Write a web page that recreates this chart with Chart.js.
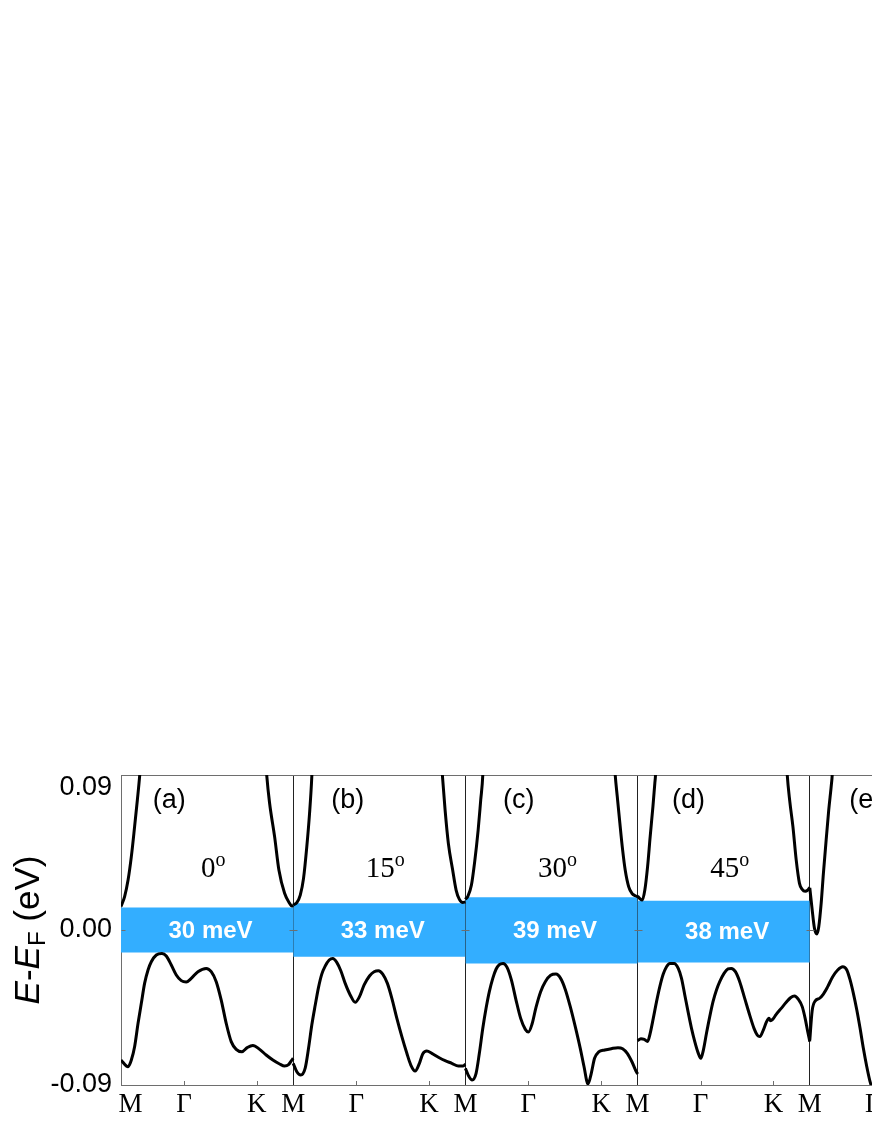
<!DOCTYPE html>
<html>
<head>
<meta charset="utf-8">
<script src="https://cdn.jsdelivr.net/npm/chart.js@4.4.1/dist/chart.umd.min.js"></script>
<style>
  html, body { margin: 0; padding: 0; background: #fff; width: 872px; height: 1128px; overflow: hidden; }
  #wrap { position: absolute; left: 0; top: 760px; width: 872px; height: 368px; overflow: hidden; }
  canvas { display: block; }
</style>
</head>
<body>
<div id="wrap"><canvas id="c" width="992" height="368"></canvas></div>
<script>
// ---------------- data (x: fraction along M-Γ-K-M of each panel, y: E-EF in eV) ----------------
const panelTags   = ['(a)', '(b)', '(c)', '(d)', '(e)'];
const panelAngles = ['0', '15', '30', '45'];
const gapLabels   = ['30 meV', '33 meV', '39 meV', '38 meV'];
const gapTop      = [0.0130, 0.0155, 0.0190, 0.0170];
const gapBottom   = [-0.0130, -0.0155, -0.0194, -0.0188];
const kPathLabels = ['M', 'Γ', 'K'];
const kPathPos    = [0, 0.366, 0.789];
const yTickValues = [-0.09, 0, 0.09];

// panel (a) 0°
const cbLeftA  = [[0,0.0136],[0.021,0.0194],[0.041,0.029],[0.060,0.0426],[0.079,0.060],[0.095,0.0755],[0.108,0.089],[0.122,0.108]];
const cbRightA = [[0.835,0.108],[0.847,0.089],[0.863,0.0736],[0.892,0.0542],[0.917,0.0348],[0.950,0.0213],[0.979,0.0155],[0.992,0.0139],[1.0,0.0143]];
const vbA = [[0,-0.0755],[0.041,-0.0794],[0.060,-0.0755],[0.079,-0.0678],[0.099,-0.0542],[0.118,-0.0426],[0.137,-0.031],[0.157,-0.0232],[0.176,-0.0184],[0.205,-0.0145],[0.238,-0.0136],[0.263,-0.0151],[0.292,-0.0203],[0.321,-0.0261],[0.350,-0.0294],[0.379,-0.0302],[0.408,-0.0281],[0.447,-0.0242],[0.495,-0.0223],[0.524,-0.0242],[0.553,-0.030],[0.582,-0.0407],[0.611,-0.0542],[0.640,-0.0648],[0.669,-0.0693],[0.702,-0.0707],[0.733,-0.0683],[0.766,-0.0670],[0.805,-0.0693],[0.843,-0.0726],[0.882,-0.0755],[0.921,-0.0778],[0.950,-0.079],[0.973,-0.0782],[0.992,-0.0755],[1.0,-0.0745]];

// panel (b) 15°
const cbLeftB  = [[0,0.0145],[0.021,0.0159],[0.041,0.0203],[0.060,0.030],[0.079,0.0484],[0.095,0.0678],[0.108,0.089],[0.114,0.105]];
const cbRightB = [[0.857,0.105],[0.867,0.089],[0.882,0.0697],[0.901,0.0503],[0.926,0.0348],[0.946,0.0232],[0.965,0.0178],[0.985,0.0159],[1.0,0.0163]];
const vbB = [[0,-0.0774],[0.021,-0.0823],[0.044,-0.0842],[0.070,-0.080],[0.089,-0.0687],[0.108,-0.0552],[0.128,-0.0436],[0.147,-0.0333],[0.166,-0.0256],[0.186,-0.0209],[0.209,-0.0174],[0.230,-0.0165],[0.253,-0.0188],[0.277,-0.0238],[0.302,-0.031],[0.331,-0.0377],[0.360,-0.042],[0.385,-0.0387],[0.412,-0.0319],[0.443,-0.0267],[0.470,-0.0242],[0.495,-0.0236],[0.520,-0.0256],[0.547,-0.031],[0.573,-0.0397],[0.602,-0.0513],[0.631,-0.0619],[0.660,-0.0716],[0.683,-0.0784],[0.708,-0.0819],[0.733,-0.0774],[0.752,-0.072],[0.776,-0.0703],[0.805,-0.0716],[0.843,-0.0739],[0.882,-0.0759],[0.921,-0.0774],[0.959,-0.079],[0.985,-0.079],[1.0,-0.078]];

// panel (c) 30°
const cbLeftC  = [[0,0.0178],[0.015,0.0197],[0.035,0.0261],[0.054,0.0397],[0.074,0.058],[0.089,0.0755],[0.101,0.090],[0.106,0.105]];
const cbRightC = [[0.861,0.105],[0.870,0.090],[0.882,0.0774],[0.897,0.062],[0.913,0.0465],[0.928,0.0348],[0.948,0.0252],[0.967,0.0213],[0.986,0.0199],[1.0,0.0194]];
const vbC = [[0,-0.0803],[0.019,-0.0848],[0.039,-0.0871],[0.062,-0.0832],[0.081,-0.0716],[0.101,-0.0571],[0.120,-0.0455],[0.139,-0.0358],[0.159,-0.0281],[0.178,-0.0228],[0.197,-0.0201],[0.219,-0.0194],[0.242,-0.0217],[0.267,-0.029],[0.294,-0.0407],[0.321,-0.0513],[0.348,-0.0577],[0.366,-0.0592],[0.387,-0.0546],[0.410,-0.0449],[0.437,-0.0358],[0.464,-0.030],[0.495,-0.0263],[0.526,-0.0256],[0.553,-0.0281],[0.580,-0.0345],[0.609,-0.0445],[0.638,-0.0561],[0.667,-0.0687],[0.689,-0.0794],[0.712,-0.0894],[0.731,-0.0832],[0.750,-0.0745],[0.774,-0.0708],[0.809,-0.0697],[0.847,-0.0689],[0.886,-0.0683],[0.913,-0.0689],[0.940,-0.0716],[0.967,-0.0765],[0.986,-0.0809],[1.0,-0.0836]];

// panel (d) 45°
const cbLeftD  = [[0,0.0197],[0.0135,0.0182],[0.027,0.0174],[0.042,0.0232],[0.058,0.0368],[0.073,0.0542],[0.089,0.0716],[0.100,0.0852],[0.104,0.090],[0.109,0.105]];
const cbRightD = [[0.861,0.105],[0.869,0.090],[0.884,0.0745],[0.902,0.060],[0.921,0.0407],[0.940,0.0271],[0.956,0.0236],[0.973,0.0225],[0.988,0.0232],[1.0,0.0248]];
const vbD = [[0,-0.0643],[0.019,-0.0631],[0.039,-0.0635],[0.058,-0.0647],[0.073,-0.060],[0.091,-0.0513],[0.110,-0.0416],[0.129,-0.0329],[0.149,-0.0256],[0.168,-0.0213],[0.187,-0.0194],[0.212,-0.0194],[0.236,-0.0223],[0.255,-0.0281],[0.274,-0.0377],[0.293,-0.0474],[0.313,-0.0571],[0.332,-0.0648],[0.351,-0.0712],[0.367,-0.0745],[0.382,-0.0697],[0.400,-0.060],[0.419,-0.0503],[0.438,-0.0416],[0.458,-0.0348],[0.477,-0.030],[0.502,-0.0252],[0.525,-0.0226],[0.544,-0.0223],[0.568,-0.0242],[0.593,-0.030],[0.622,-0.0397],[0.651,-0.0494],[0.676,-0.0571],[0.695,-0.061],[0.710,-0.0619],[0.730,-0.0581],[0.749,-0.0532],[0.763,-0.0513],[0.772,-0.0527],[0.784,-0.0519],[0.805,-0.049],[0.834,-0.0455],[0.863,-0.042],[0.888,-0.0393],[0.911,-0.0383],[0.934,-0.0403],[0.956,-0.0445],[0.973,-0.0513],[0.988,-0.059],[1.0,-0.0648]];

// panel (e) (partly visible)
const cbE = [[0,0.0245],[0.0135,0.0120],[0.027,0.0010],[0.041,-0.0023],[0.052,0.0019],[0.066,0.0155],[0.079,0.0329],[0.095,0.0523],[0.110,0.0697],[0.126,0.0852],[0.130,0.090],[0.134,0.105]];
const vbE = [[0,-0.0640],[0.0135,-0.0470],[0.033,-0.0410],[0.056,-0.0397],[0.079,-0.0372],[0.104,-0.0329],[0.133,-0.0271],[0.162,-0.0232],[0.191,-0.0213],[0.215,-0.0232],[0.234,-0.029],[0.253,-0.0368],[0.273,-0.0465],[0.292,-0.0571],[0.311,-0.0687],[0.331,-0.0794],[0.350,-0.0881],[0.366,-0.093]];

const bandPanels = [
  [cbLeftA, cbRightA, vbA],
  [cbLeftB, cbRightB, vbB],
  [cbLeftC, cbRightC, vbC],
  [cbLeftD, cbRightD, vbD],
  [cbE, vbE]
];

// ---------------- styling / layout ----------------
const SANS  = "'Liberation Sans', Arial, Helvetica, sans-serif";
const SERIF = "'Liberation Serif', 'Times New Roman', serif";
const BLUE  = 'rgb(51,174,255)';
const AXIS_GRAY = '#6e6e6e';
const tagOffset = [0.28, 0.317, 0.31, 0.296, 0.325];

const datasets = [];
gapTop.forEach((top, p) => {
  datasets.push({
    data: [{x: p, y: top}, {x: p + 1, y: top}],
    borderWidth: 0, borderColor: 'rgba(0,0,0,0)', pointRadius: 0,
    backgroundColor: BLUE, fill: {value: gapBottom[p]}, order: 2
  });
});
bandPanels.forEach((curves, p) => {
  curves.forEach(pts => {
    datasets.push({
      data: pts.map(([f, e]) => ({x: p + f, y: e})),
      borderColor: '#000', borderWidth: 3, pointRadius: 0, fill: false,
      cubicInterpolationMode: 'monotone', clip: 0, order: 1
    });
  });
});

const xTickList = [];
for (let p = 0; p < 5; p++) kPathPos.forEach(k => xTickList.push(+(p + k).toFixed(3)));

function kLabel(v) {
  const f = v - Math.floor(v + 1e-6);
  let best = 0;
  kPathPos.forEach((k, i) => { if (Math.abs(k - f) < Math.abs(kPathPos[best] - f)) best = i; });
  // the very first label sits just inside the frame, as in the original
  return v === 0 ? '\u2002\u2009' + kPathLabels[best] : kPathLabels[best];
}

function noPad(s) { s.paddingTop = 0; s.paddingBottom = 0; s.paddingLeft = 0; s.paddingRight = 0; }

const annot = {
  id: 'annot',
  afterDatasetsDraw(chart) {
    const {ctx, scales: {x, y}} = chart;
    ctx.save();
    ctx.fillStyle = '#000';
    ctx.textAlign = 'center';
    ctx.textBaseline = 'middle';
    ctx.font = '27px ' + SANS;
    panelTags.forEach((t, i) => ctx.fillText(t, x.getPixelForValue(i + tagOffset[i]), y.getPixelForValue(0.0752)));

    // angle labels with superscript "o"
    panelAngles.forEach((a, i) => {
      ctx.font = '29px ' + SERIF;
      const w1 = ctx.measureText(a).width;
      ctx.font = '20px ' + SERIF;
      const w2 = ctx.measureText('o').width;
      const cx = x.getPixelForValue(i + 0.535);
      const base = y.getPixelForValue(0.0366) + 10;
      const x0 = cx - (w1 + w2) / 2;
      ctx.textAlign = 'left';
      ctx.textBaseline = 'alphabetic';
      ctx.font = '29px ' + SERIF;
      ctx.fillText(a, x0, base);
      ctx.font = '20px ' + SERIF;
      ctx.fillText('o', x0 + w1, base - 11);
    });

    // gap labels
    ctx.textAlign = 'center';
    ctx.textBaseline = 'middle';
    ctx.fillStyle = '#fff';
    ctx.font = 'bold 24px ' + SANS;
    gapLabels.forEach((t, i) => ctx.fillText(t, x.getPixelForValue(i + 0.52), y.getPixelForValue((gapTop[i] + gapBottom[i]) / 2) + 1));
    ctx.restore();
  },
  afterDraw(chart) {
    const {ctx, scales: {x, y}, chartArea: ca} = chart;
    ctx.save();
    // inner tick marks
    ctx.strokeStyle = AXIS_GRAY;
    ctx.lineWidth = 1;
    xTickList.forEach(v => {
      const px = Math.round(x.getPixelForValue(v)) + 0.5;
      const f = v - Math.floor(v + 1e-6);
      if (f > 0.01) {
        ctx.beginPath(); ctx.moveTo(px, ca.bottom); ctx.lineTo(px, ca.bottom - 4); ctx.stroke();
      } else {
        const py = Math.round(y.getPixelForValue(0)) + 0.5;
        ctx.beginPath(); ctx.moveTo(px - (v > 0 ? 4 : 0), py); ctx.lineTo(px + 4, py); ctx.stroke();
      }
    });

    // y-axis title: E-E_F (eV)
    ctx.translate(26, y.getPixelForValue(0));
    ctx.rotate(-Math.PI / 2);
    ctx.fillStyle = '#000';
    ctx.textAlign = 'left';
    ctx.textBaseline = 'alphabetic';
    const parts = [
      {t: 'E', f: 'italic 35px ' + SANS, dy: 0},
      {t: '-', f: '35px ' + SANS, dy: 0},
      {t: 'E', f: 'italic 35px ' + SANS, dy: 0},
      {t: 'F', f: '24px ' + SANS, dy: 6},
      {t: ' (eV)', f: '35px ' + SANS, dy: 0}
    ];
    let total = 0;
    parts.forEach(pt => { ctx.font = pt.f; pt.w = ctx.measureText(pt.t).width; total += pt.w; });
    let cx = -total / 2;
    parts.forEach(pt => { ctx.font = pt.f; ctx.fillText(pt.t, cx, 12.5 + pt.dy); cx += pt.w; });
    ctx.restore();
  }
};

new Chart(document.getElementById('c'), {
  type: 'line',
  data: {datasets},
  plugins: [annot],
  options: {
    responsive: false,
    animation: false,
    events: [],
    layout: {padding: {top: 15, right: 10, left: 0, bottom: 0}},
    plugins: {legend: {display: false}, tooltip: {enabled: false}},
    scales: {
      x: {
        type: 'linear', position: 'bottom', min: 0, max: 5, z: 1,
        afterBuildTicks: s => { s.ticks = xTickList.map(v => ({value: v})); },
        afterFit: s => { s.height = 43; noPad(s); },
        ticks: {
          autoSkip: false, maxRotation: 0, padding: 4, color: '#000',
          font: {family: SERIF, size: 27},
          callback: v => kLabel(v)
        },
        grid: {
          drawTicks: false, drawOnChartArea: true, lineWidth: 1,
          color: c => (c.tick && c.tick.value > 0.5 && Math.abs(c.tick.value - Math.round(c.tick.value)) < 1e-6) ? '#222' : 'rgba(0,0,0,0)'
        },
        border: {display: true, color: AXIS_GRAY, width: 1}
      },
      x2: {
        type: 'linear', position: 'top', min: 0, max: 5, z: 1,
        afterFit: s => { s.height = 0; noPad(s); },
        ticks: {display: false},
        grid: {display: false, drawTicks: false},
        border: {display: true, color: AXIS_GRAY, width: 1}
      },
      y: {
        type: 'linear', position: 'left', min: -0.09, max: 0.09,
        afterBuildTicks: s => { s.ticks = yTickValues.map(v => ({value: v})); },
        afterFit: s => { s.width = 121; noPad(s); },
        ticks: {
          padding: 9, color: '#000',
          font: {family: SANS, size: 27, lineHeight: 0.9},
          callback: v => (v === yTickValues[yTickValues.length - 1]) ? ['', v.toFixed(2)] : v.toFixed(2)
        },
        grid: {display: false, drawTicks: false},
        border: {display: true, color: AXIS_GRAY, width: 1}
      }
    }
  }
});
</script>
</body>
</html>
